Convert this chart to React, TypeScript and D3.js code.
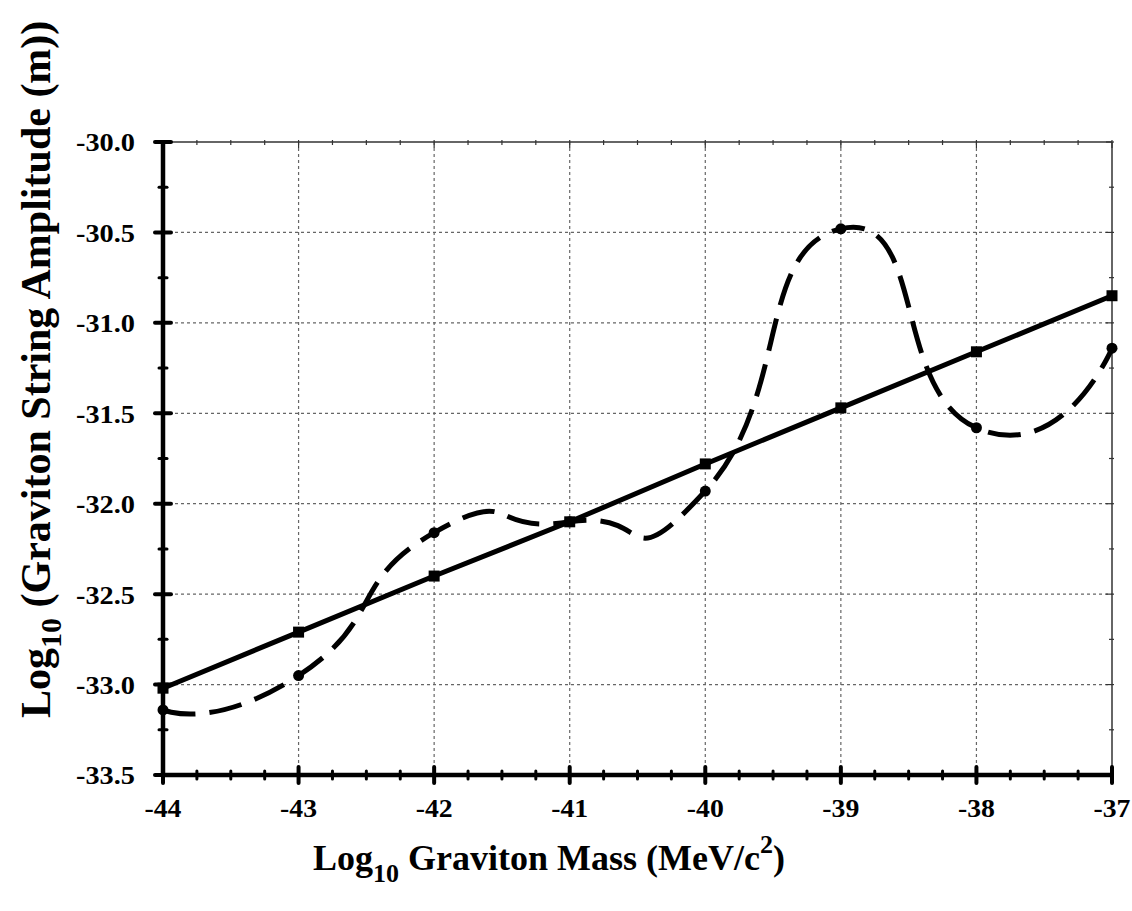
import React, { useEffect, useRef } from 'react';
import * as d3 from 'd3';

// log10 graviton mass (MeV/c^2)
const logMass = [-44, -43, -42, -41, -40, -39, -38, -37];
// solid line with squares
const linearAmp = [-33.02, -32.71, -32.4, -32.1, -31.78, -31.47, -31.16, -30.85];
// dashed smoothed line with circles
const oscAmp = [-33.14, -32.95, -32.16, -32.1, -31.93, -30.48, -31.58, -31.14];

const xTicks = [-44, -43, -42, -41, -40, -39, -38, -37];
const yTicks = [-30.0, -30.5, -31.0, -31.5, -32.0, -32.5, -33.0, -33.5];

const FONT = '"Liberation Serif", "Times New Roman", serif';

const App = () => {
  const ref = useRef(null);

  useEffect(() => {
    const svg = d3.select(ref.current);
    svg.selectAll('*').remove();

    const margin = { top: 142, right: 20, bottom: 136, left: 163 };
    const W = 1132;
    const H = 911;
    const width = W - margin.left - margin.right;
    const height = H - margin.top - margin.bottom;

    const x = d3.scaleLinear().domain([-44, -37]).range([0, width]);
    const y = d3.scaleLinear().domain([-33.5, -30]).range([height, 0]);

    const g = svg.append('g').attr('transform', `translate(${margin.left},${margin.top})`);

    // minor tick positions
    const xMinor = d3.range(-44, -37.001, 0.25).filter(v => !xTicks.includes(v));
    const yMinor = d3.range(-33.5, -29.999, 0.25).filter(v => !yTicks.includes(v));

    // grid
    g.selectAll('.vgrid')
      .data(xTicks.slice(1, -1))
      .enter()
      .append('line')
      .attr('x1', d => x(d))
      .attr('x2', d => x(d))
      .attr('y1', 0)
      .attr('y2', height)
      .attr('stroke', '#666')
      .attr('stroke-width', 1.2)
      .attr('stroke-dasharray', '3,3');

    g.selectAll('.hgrid')
      .data(yTicks.slice(1, -1))
      .enter()
      .append('line')
      .attr('x1', 0)
      .attr('x2', width)
      .attr('y1', d => y(d))
      .attr('y2', d => y(d))
      .attr('stroke', '#666')
      .attr('stroke-width', 1.2)
      .attr('stroke-dasharray', '3,3');

    // top and right frame (thin)
    g.append('line')
      .attr('x1', 0).attr('x2', width).attr('y1', 0).attr('y2', 0)
      .attr('stroke', '#333').attr('stroke-width', 1.5);
    g.append('line')
      .attr('x1', width).attr('x2', width).attr('y1', 0).attr('y2', height)
      .attr('stroke', '#333').attr('stroke-width', 1.5);

    g.selectAll('.topTick')
      .data(xTicks.concat(xMinor))
      .enter()
      .append('line')
      .attr('x1', d => x(d)).attr('x2', d => x(d))
      .attr('y1', -2)
      .attr('y2', d => (xTicks.includes(d) ? 6 : 3))
      .attr('stroke', '#333').attr('stroke-width', 1.2);

    g.selectAll('.rightTick')
      .data(yTicks.concat(yMinor))
      .enter()
      .append('line')
      .attr('y1', d => y(d)).attr('y2', d => y(d))
      .attr('x1', d => width - (yTicks.includes(d) ? 6 : 3))
      .attr('x2', width + 2)
      .attr('stroke', '#333').attr('stroke-width', 1.2);

    // left and bottom axes (thick)
    g.append('line')
      .attr('x1', 0).attr('x2', 0).attr('y1', -2).attr('y2', height + 2)
      .attr('stroke', '#000').attr('stroke-width', 4.5);
    g.append('line')
      .attr('x1', -2).attr('x2', width + 2).attr('y1', height).attr('y2', height)
      .attr('stroke', '#000').attr('stroke-width', 4.5);

    g.selectAll('.leftTick')
      .data(yTicks.concat(yMinor))
      .enter()
      .append('line')
      .attr('y1', d => y(d)).attr('y2', d => y(d))
      .attr('x1', d => (yTicks.includes(d) ? -8 : -4))
      .attr('x2', d => (yTicks.includes(d) ? 8 : 4))
      .attr('stroke', '#000')
      .attr('stroke-width', d => (yTicks.includes(d) ? 4 : 3))
      .attr('stroke-linecap', 'round');

    g.selectAll('.bottomTick')
      .data(xTicks.concat(xMinor))
      .enter()
      .append('line')
      .attr('x1', d => x(d)).attr('x2', d => x(d))
      .attr('y1', d => height - (xTicks.includes(d) ? 8 : 4))
      .attr('y2', d => height + (xTicks.includes(d) ? 8 : 4))
      .attr('stroke', '#000')
      .attr('stroke-width', d => (xTicks.includes(d) ? 4 : 3))
      .attr('stroke-linecap', 'round');

    // tick labels (the original glyphs are a little wide)
    g.selectAll('.yLabel')
      .data(yTicks)
      .enter()
      .append('text')
      .attr('x', -28)
      .attr('y', d => y(d))
      .attr('dy', '0.36em')
      .attr('text-anchor', 'end')
      .attr('textLength', 59)
      .attr('lengthAdjust', 'spacingAndGlyphs')
      .style('font-family', FONT)
      .style('font-weight', 'bold')
      .style('font-size', '26px')
      .text(d => d.toFixed(1));

    g.selectAll('.xLabel')
      .data(xTicks)
      .enter()
      .append('text')
      .attr('x', d => x(d))
      .attr('y', height + 42)
      .attr('text-anchor', 'middle')
      .attr('textLength', 37)
      .attr('lengthAdjust', 'spacingAndGlyphs')
      .style('font-family', FONT)
      .style('font-weight', 'bold')
      .style('font-size', '26px')
      .text(d => d);

    const pts = (vals: number[]) => logMass.map((m, i) => [m, vals[i]] as [number, number]);

    // dashed smoothed series
    const smooth = d3
      .line()
      .x(d => x(d[0]))
      .y(d => y(d[1]))
      .curve(d3.curveCardinal.tension(-0.9));

    g.append('path')
      .datum(pts(oscAmp))
      .attr('fill', 'none')
      .attr('stroke', '#000')
      .attr('stroke-width', 5)
      .attr('stroke-dasharray', '33,14')
      .attr('d', smooth);

    g.selectAll('.dot')
      .data(pts(oscAmp))
      .enter()
      .append('circle')
      .attr('cx', d => x(d[0]))
      .attr('cy', d => y(d[1]))
      .attr('r', 5.5)
      .attr('fill', '#000');

    // solid straight series
    const straight = d3
      .line()
      .x(d => x(d[0]))
      .y(d => y(d[1]));

    g.append('path')
      .datum(pts(linearAmp))
      .attr('fill', 'none')
      .attr('stroke', '#000')
      .attr('stroke-width', 5)
      .attr('d', straight);

    g.selectAll('.sq')
      .data(pts(linearAmp))
      .enter()
      .append('rect')
      .attr('x', d => x(d[0]) - 5.5)
      .attr('y', d => y(d[1]) - 5.5)
      .attr('width', 11)
      .attr('height', 11)
      .attr('fill', '#000');

    // x axis title
    const xt = svg.append('text')
      .attr('x', 313)
      .attr('y', 870)
      .style('font-family', FONT)
      .style('font-weight', 'bold')
      .style('font-size', '36px');
    xt.append('tspan').text('Log');
    xt.append('tspan').attr('dy', 12).style('font-size', '26px').text('10');
    xt.append('tspan').attr('dy', -12).text(' Graviton Mass (MeV/c');
    xt.append('tspan').attr('dy', -17).style('font-size', '26px').text('2');
    xt.append('tspan').attr('dy', 17).text(')');

    // y axis title
    const yt = svg.append('text')
      .attr('transform', 'translate(50,718) rotate(-90)')
      .attr('x', 0)
      .attr('y', 0)
      .style('font-family', FONT)
      .style('font-weight', 'bold')
      .style('font-size', '42px');
    yt.append('tspan').text('Log');
    yt.append('tspan').attr('dy', 11).style('font-size', '30px').text('10');
    yt.append('tspan').attr('dy', -11).text(' (Graviton String Amplitude (m))');
  }, []);

  return (
    <svg
      ref={ref}
      width={1132}
      height={911}
      style={{ position: 'absolute', left: 0, top: 0, background: '#fff' }}
    ></svg>
  );
};

export default App;
